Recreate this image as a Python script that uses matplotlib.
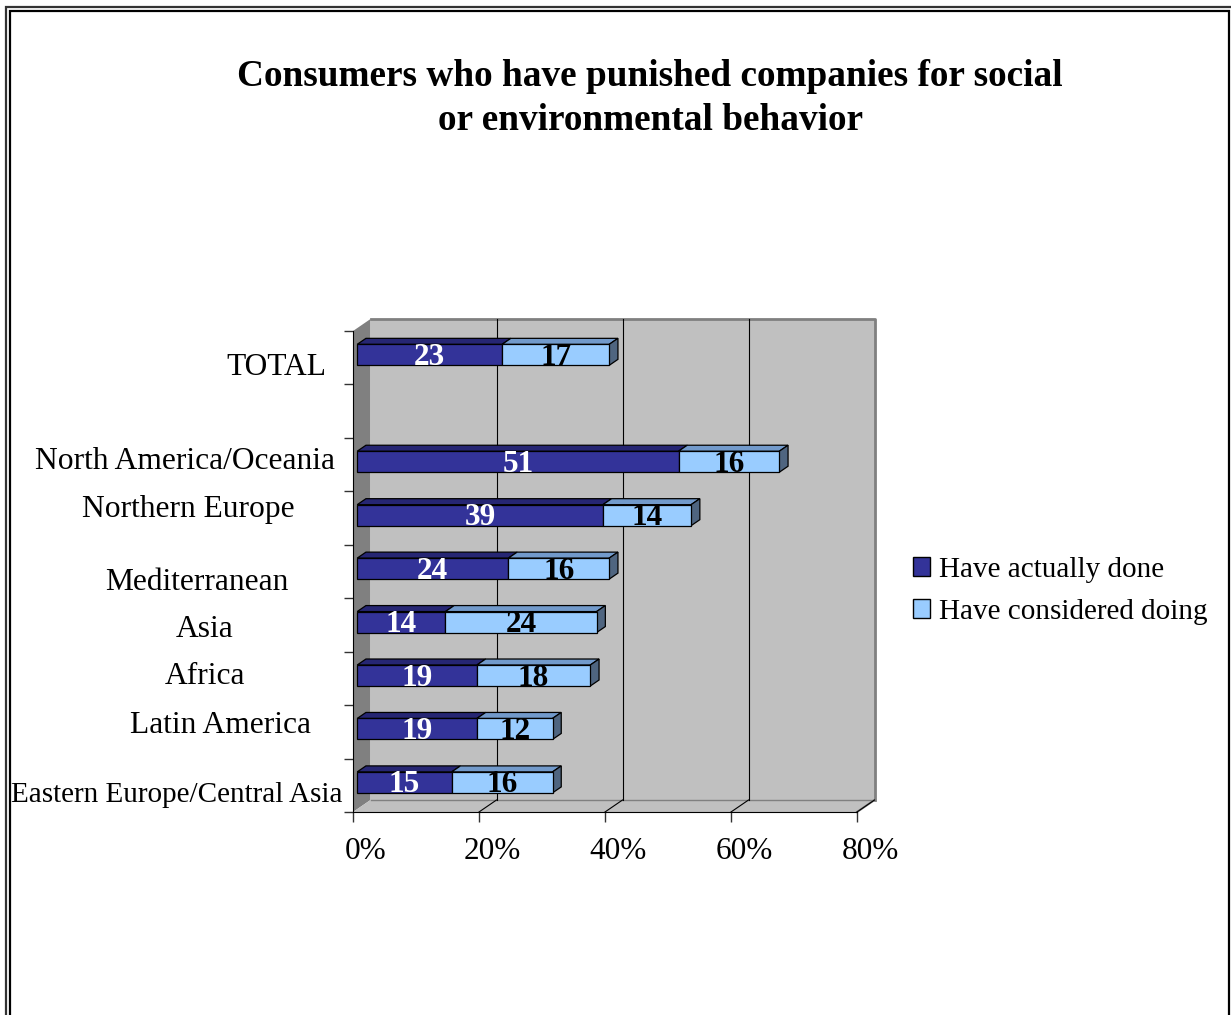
import matplotlib
matplotlib.use("Agg")
import matplotlib.pyplot as plt
from matplotlib.patches import Polygon, Rectangle, Patch
from matplotlib.lines import Line2D
from matplotlib.transforms import ScaledTranslation

# ---------------- data ----------------
regions = ["TOTAL", "North America/Oceania", "Northern Europe", "Mediterranean",
           "Asia", "Africa", "Latin America", "Eastern Europe/Central Asia"]
done = [23, 51, 39, 24, 14, 19, 19, 15]
considered = [17, 16, 14, 16, 24, 18, 12, 16]
series_names = ["Have actually done", "Have considered doing"]
xticks = [0, 20, 40, 60, 80]
xtick_labels = ["0%", "20%", "40%", "60%", "80%"]
title = "Consumers who have punished companies for social\nor environmental behavior"

# ---------------- layout ----------------
W, H = 1231, 1015
slots = [0, 2, 3, 4, 5, 6, 7, 8]          # category slot of each region (slot 1 empty)
n_slots = 9
label_pos = [(276, 375), (185, 469), (188, 517), (197, 590), (205, 637),
             (205, 684), (220, 733), (177, 802)]   # label centre x / baseline y (px)
label_size = [22.7, 22.7, 22.7, 22.7, 22.7, 22.7, 22.7, 21.0]

FONT = "Liberation Serif"
plt.rcParams["font.family"] = [FONT, "DejaVu Serif"]

c_done, c_done_top = "#333399", "#262673"
c_cons, c_cons_top, c_cons_side = "#99CCFF", "#729ACB", "#4F6580"
wall, side_wall, edge_gray = "#C0C0C0", "#808080", "#808080"

def fx(px): return px / W
def fy(py): return 1 - py / H

fig = plt.figure(figsize=(W / 100, H / 100), dpi=100)
ax_l, ax_r, ax_t, ax_b = 353, 857, 331, 812
ax = fig.add_axes([fx(ax_l), fy(ax_b), (ax_r - ax_l) / W, (ax_b - ax_t) / H])
ax.set_xlim(0, 80)
ax.set_ylim(n_slots - 0.5, -0.5)
ax.patch.set_visible(False)

px_x = (ax_r - ax_l) / 80.0
px_y = (ax_b - ax_t) / n_slots
DX = 17.5 / px_x          # depth offset in % units
DY = -12.0 / px_y         # depth offset in slot units (upwards)

def P(x, y, f):
    return (x + f * DX, y + f * DY)

def poly(pts, **kw):
    p = Polygon(pts, closed=True, clip_on=False, **kw)
    ax.add_patch(p)
    return p

y0, y1 = n_slots - 0.5, -0.5
# back wall
poly([P(0, y0, 1), P(80, y0, 1), P(80, y1, 1), P(0, y1, 1)],
     facecolor=wall, edgecolor="none", zorder=0)
ax.add_line(Line2D(*zip(P(0, y1, 1), P(80, y1, 1), P(80, y0, 1)), color=edge_gray, lw=2,
                   clip_on=False, zorder=1))
ax.add_line(Line2D(*zip(P(0, y0, 1), P(80, y0, 1)), color=edge_gray, lw=1,
                   clip_on=False, zorder=1))
# left wall
poly([P(0, y0, 0), P(0, y0, 1), P(0, y1, 1), P(0, y1, 0)],
     facecolor=side_wall, edgecolor="none", zorder=0.5)
# floor
poly([P(0, y0, 0), P(80, y0, 0), P(80, y0, 1), P(0, y0, 1)],
     facecolor=wall, edgecolor="none", zorder=0.5)
ax.add_line(Line2D(*zip(P(80, y0, 0), P(80, y0, 1)), color=edge_gray, lw=1.5,
                   clip_on=False, zorder=1))
# gridlines
for t in xticks[1:-1]:
    ax.add_line(Line2D(*zip(P(t, y0, 1), P(t, y1, 1)), color="black", lw=0.8,
                       clip_on=False, zorder=1))
for t in xticks[1:]:
    ax.add_line(Line2D(*zip(P(t, y0, 0), P(t, y0, 1)), color="black", lw=0.8,
                       clip_on=False, zorder=1))

# bars
f0, f1 = 0.24, 0.74
bh = 21.0 / px_y
for s, d, c in zip(slots, done, considered):
    yc = s + f0 * DY
    left0 = f0 * DX
    ax.barh(yc, d, left=left0, height=bh, color=c_done, edgecolor="black", lw=0.9, zorder=3)
    ax.barh(yc, c, left=left0 + d, height=bh, color=c_cons, edgecolor="black", lw=0.9, zorder=3)
    ytop = s - bh / 2
    ybot = s + bh / 2
    # top faces
    poly([P(0, ytop, f0), P(d, ytop, f0), P(d, ytop, f1), P(0, ytop, f1)],
         facecolor=c_done_top, edgecolor="black", lw=0.9, zorder=2.5)
    poly([P(d, ytop, f0), P(d + c, ytop, f0), P(d + c, ytop, f1), P(d, ytop, f1)],
         facecolor=c_cons_top, edgecolor="black", lw=0.9, zorder=2.5)
    # end side face
    e = d + c
    poly([P(e, ytop, f0), P(e, ytop, f1), P(e, ybot, f1), P(e, ybot, f0)],
         facecolor=c_cons_side, edgecolor="black", lw=0.9, zorder=2.5)
    # value labels (baseline on the bottom edge of the front face)
    yb = yc + bh / 2 - 0.5 / px_y
    ax.text(left0 + d / 2, yb, str(d), ha="center", va="baseline", color="white",
            fontsize=22.5, fontweight="bold", zorder=5)
    ax.text(left0 + d + c / 2, yb, str(c), ha="center", va="baseline", color="black",
            fontsize=22.5, fontweight="bold", zorder=5)

# axes / ticks
for sp in ["top", "right"]:
    ax.spines[sp].set_visible(False)
ax.spines["left"].set_color("black")
ax.spines["bottom"].set_color("black")
ax.spines["left"].set_zorder(2)
ax.spines["bottom"].set_zorder(2)
ax.set_yticks([i - 0.5 for i in range(n_slots + 1)])
ax.set_yticklabels([])
ax.tick_params(axis="y", direction="out", length=6.5, width=1, color="#333333")
ax.set_xticks(xticks)
ax.set_xticklabels(xtick_labels, fontsize=22.5)
ax.tick_params(axis="x", direction="out", length=7, width=1, color="#333333", pad=11)
for lab in ax.get_xticklabels():
    lab.set_transform(lab.get_transform() + ScaledTranslation(0.13, 0, fig.dpi_scale_trans))

# category labels
for name, (lx, ly), fs in zip(regions, label_pos, label_size):
    fig.text(fx(lx), fy(ly), name, ha="center", va="baseline", fontsize=fs)

# title (baseline of last line)
fig.text(fx(650), fy(130), title, ha="center", va="baseline", fontsize=26.8,
         fontweight="bold", linespacing=1.32)

# legend
handles = [Patch(facecolor=c_done, edgecolor="black", lw=1),
           Patch(facecolor=c_cons, edgecolor="black", lw=1)]
fig.legend(handles, series_names, loc="upper left", bbox_to_anchor=(fx(913), fy(557)),
           frameon=False, fontsize=21, handlelength=0.6, handleheight=0.6,
           handletextpad=0.3, labelspacing=0.54, borderpad=0, borderaxespad=0)

# double border
fig.add_artist(Rectangle((fx(6), fy(1030)), fx(1240) - fx(6), fy(7) - fy(1030),
                         transform=fig.transFigure, fill=False, edgecolor="#333333", lw=1.6))
fig.add_artist(Rectangle((fx(10), fy(1030)), fx(1229) - fx(10), fy(11) - fy(1030),
                         transform=fig.transFigure, fill=False, edgecolor="black", lw=1.6))

fig.savefig("out.png", dpi=100)
